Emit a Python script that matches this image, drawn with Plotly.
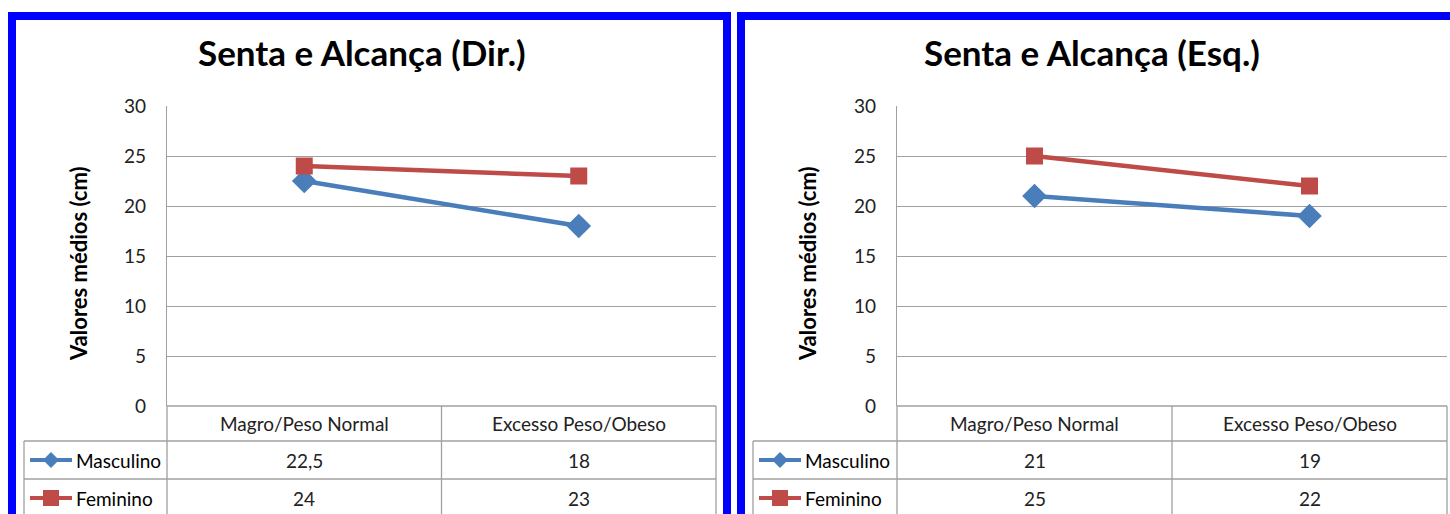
import plotly.graph_objects as go

W, H = 1450, 514

categorias = ["Magro/Peso Normal", "Excesso Peso/Obeso"]
series = ["Masculino", "Feminino"]
titulos = ["Senta e Alcança (Dir.)", "Senta e Alcança (Esq.)"]
dir_masculino = [22.5, 18]
dir_feminino = [24, 23]
esq_masculino = [21, 19]
esq_feminino = [25, 22]
y_ticks = [0, 5, 10, 15, 20, 25, 30]
y_titulo = "Valores médios (cm)"

cores = {"Masculino": "#4a7ebb", "Feminino": "#be4b48"}
simbolos = {"Masculino": "diamond", "Feminino": "square"}
FONT = "Lato"
GRID = "#a0a0a0"


def px(x):
    return x / W


def py(y):
    return 1 - y / H


def fmt(v):
    return (str(int(v)) if float(v).is_integer() else str(v)).replace(".", ",")


def texto(t, x, y, size, color="#222", xanchor="center", angle=0):
    return dict(text=t, xref="paper", yref="paper", x=px(x), y=py(y), showarrow=False,
                xanchor=xanchor, yanchor="middle", textangle=angle,
                font=dict(family=FONT, size=size, color=color))


# panel geometry in pixels
paineis = [
    dict(borda=(12, 727), plot=(167, 716), leg=24, titulo_x=362, ytit_x=78,
         dados=[dir_masculino, dir_feminino]),
    dict(borda=(741, 1458), plot=(897, 1447), leg=753, titulo_x=1092, ytit_x=807,
         dados=[esq_masculino, esq_feminino]),
]
y_top, y_bot = 106, 406
linhas = [406, 441, 479, 530]
linha_y = [460, 498]

fig = go.Figure()
shapes, annotations = [], []

for i, p in enumerate(paineis):
    n = "" if i == 0 else str(i + 1)
    x0, x1 = p["plot"]
    fig.update_layout(**{
        "xaxis" + n: dict(domain=[px(x0), px(x1)], range=[-0.5, 1.5], showgrid=False,
                          showline=False, showticklabels=False, zeroline=False,
                          automargin=False, anchor="y" + n),
        "yaxis" + n: dict(domain=[py(y_bot), py(y_top)], range=[0, 30], tickvals=y_ticks,
                          gridcolor=GRID, gridwidth=1.3, showline=True, linecolor=GRID,
                          linewidth=1.3, zeroline=False, ticklabelstandoff=16,
                          automargin=False,
                          tickfont=dict(family=FONT, size=19, color="#222"),
                          anchor="x" + n),
    })
    for s, vals in zip(series, p["dados"]):
        fig.add_trace(go.Scatter(
            x=[0, 1], y=vals, mode="lines+markers", name=s, showlegend=False,
            xaxis="x" + n, yaxis="y" + n, cliponaxis=False,
            line=dict(color=cores[s], width=4.5),
            marker=dict(symbol=simbolos[s], size=17 if s == "Feminino" else 19,
                        color=cores[s], line=dict(width=0)),
        ))

    # blue frame
    bx0, bx1 = p["borda"]
    shapes.append(dict(type="rect", xref="paper", yref="paper",
                       x0=px(bx0), x1=px(bx1), y0=py(560), y1=py(16),
                       line=dict(color="#0000ff", width=8), layer="below"))

    # title + y title
    annotations.append(texto("<b>" + titulos[i] + "</b>", p["titulo_x"], 52, 35, "#000"))
    annotations.append(texto("<b>" + y_titulo + "</b>", p["ytit_x"], 264, 22, "#000",
                             angle=-90))

    # data table lines
    leg = p["leg"]
    meio = (x0 + x1) / 2
    shapes.append(dict(type="line", xref="paper", yref="paper", x0=px(x0), x1=px(x1),
                       y0=py(linhas[0]), y1=py(linhas[0]), line=dict(color=GRID, width=1.3)))
    for yl in linhas[1:3]:
        shapes.append(dict(type="line", xref="paper", yref="paper", x0=px(leg), x1=px(x1),
                           y0=py(yl), y1=py(yl), line=dict(color=GRID, width=1.3)))
    for xl in (x0, meio, x1):
        shapes.append(dict(type="line", xref="paper", yref="paper", x0=px(xl), x1=px(xl),
                           y0=py(linhas[0]), y1=py(linhas[3]), line=dict(color=GRID, width=1.3)))
    shapes.append(dict(type="line", xref="paper", yref="paper", x0=px(leg), x1=px(leg),
                       y0=py(linhas[1]), y1=py(linhas[3]), line=dict(color=GRID, width=1.3)))

    # header row
    for j, c in enumerate(categorias):
        cx = x0 + (j + 0.5) * (x1 - x0) / 2
        annotations.append(texto(c, cx, 423, 19))
    # value rows
    for k, (s, vals) in enumerate(zip(series, p["dados"])):
        yc = linha_y[k]
        for j, v in enumerate(vals):
            cx = x0 + (j + 0.5) * (x1 - x0) / 2
            annotations.append(texto(fmt(v), cx, yc, 19))
        annotations.append(texto(s, leg + 50, yc, 19, "#000", xanchor="left"))
        # legend key
        lx0, lx1, mx = leg + 6, leg + 48, leg + 27
        shapes.append(dict(type="line", xref="paper", yref="paper", x0=px(lx0), x1=px(lx1),
                           y0=py(yc), y1=py(yc), line=dict(color=cores[s], width=4)))
        d = 8
        if simbolos[s] == "diamond":
            path = "M {} {} L {} {} L {} {} L {} {} Z".format(
                px(mx - d), py(yc), px(mx), py(yc - d), px(mx + d), py(yc), px(mx), py(yc + d))
            shapes.append(dict(type="path", xref="paper", yref="paper", path=path,
                               fillcolor=cores[s], line=dict(width=0)))
        else:
            shapes.append(dict(type="rect", xref="paper", yref="paper",
                               x0=px(mx - d), x1=px(mx + d), y0=py(yc + d), y1=py(yc - d),
                               fillcolor=cores[s], line=dict(width=0)))

fig.update_layout(
    width=W, height=H, margin=dict(l=0, r=0, t=0, b=0, autoexpand=False),
    paper_bgcolor="white", plot_bgcolor="white",
    shapes=shapes, annotations=annotations,
)

# page body has a default 8px margin; drop it so the figure fills the window
fig.write_html("out.html", config={"displayModeBar": False},
               post_script="document.body.style.margin='0';"
                           "document.body.style.overflow='hidden';")
